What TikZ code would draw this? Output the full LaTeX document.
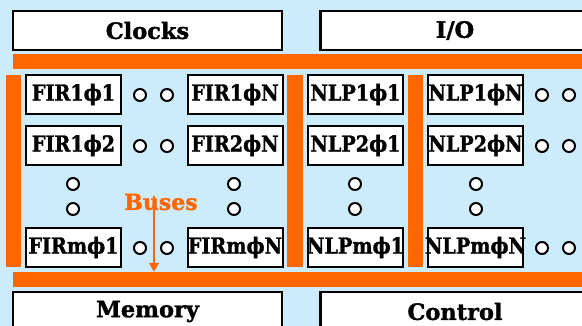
\documentclass[tikz,border=0pt]{standalone}
\usepackage{fontspec}
\setmainfont{DejaVu Serif}[BoldFont={DejaVu Serif Bold}, BoldFeatures={FakeBold=1.5}]
\usetikzlibrary{arrows.meta}
\definecolor{bgblue}{HTML}{CCEBFB}
\definecolor{busorange}{HTML}{FF6600}
\tikzset{
  header/.style={draw=black, line width=2.5pt, fill=white, minimum width=269pt, minimum height=39pt, inner sep=0pt, font=\fontsize{22.5}{24}\selectfont\bfseries},
  pe/.style={draw=black, line width=2pt, fill=white, minimum width=95pt, minimum height=39pt, inner sep=0pt, font=\fontsize{22}{24}\selectfont\bfseries},
  bus/.style={fill=busorange, draw=none, inner sep=0pt},
  dot/.style={circle, draw=black, line width=2pt, fill=white, minimum size=12pt, inner sep=0pt},
  busarrow/.style={draw=busorange, line width=1.6pt, -{Triangle[width=10pt,length=9pt]}},
}
\newcommand{\lbl}[1]{\makebox[0pt]{#1}}
\newcommand{\pelbl}[1]{\makebox[0pt]{\scalebox{0.87}[1]{#1}}}
\begin{document}
\begin{tikzpicture}[x=1pt,y=-1pt]
\useasboundingbox (0,0) rectangle (582,326);
\clip (0,0) rectangle (582,326);
\fill[bgblue] (0,0) rectangle (582,326);
% headers
\node[header] (clocks) at (147.5,30.5) {\lbl{Clocks}};
\node[header] (io) at (455,30.5) {\lbl{I/O}};
\node[header] (memory) at (147.5,311.5) {\lbl{Memory}};
\node[header] (control) at (455,311.5) {\lbl{Control}};
% buses
\node[bus, minimum width=577pt, minimum height=15pt] (topbar) at (301.5,62) {};
\node[bus, minimum width=577pt, minimum height=15pt] (botbar) at (301.5,279.5) {};
\node[bus, minimum width=15pt, minimum height=192pt] (vbar1) at (13.5,171) {};
\node[bus, minimum width=16pt, minimum height=192pt] (vbar2) at (295,171) {};
\node[bus, minimum width=15pt, minimum height=192pt] (vbar3) at (415.5,171) {};
\node[bus, minimum width=15pt, minimum height=192pt] (vbar4) at (589.5,171) {};
% processing elements
\node[pe] (f11) at (73.5,94.5) {\pelbl{FIR1ϕ1}};
\node[pe] (f1n) at (235,94.5) {\pelbl{FIR1ϕN}};
\node[pe] (n11) at (355.5,94.5) {\pelbl{NLP1ϕ1}};
\node[pe] (n1n) at (475.5,94.5) {\pelbl{NLP1ϕN}};
\node[pe] (f12) at (73.5,145.5) {\pelbl{FIR1ϕ2}};
\node[pe] (f2n) at (235,145.5) {\pelbl{FIR2ϕN}};
\node[pe] (n21) at (355.5,145.5) {\pelbl{NLP2ϕ1}};
\node[pe] (n2n) at (475.5,145.5) {\pelbl{NLP2ϕN}};
\node[pe] (fm1) at (73.5,247.5) {\pelbl{FIRmϕ1}};
\node[pe] (fmn) at (235,247.5) {\pelbl{FIRmϕN}};
\node[pe] (nm1) at (355.5,247.5) {\pelbl{NLPmϕ1}};
\node[pe] (nmn) at (475.5,247.5) {\pelbl{NLPmϕN}};
% ellipsis dots horizontal
\foreach \r/\y in {a/95,b/146,c/248}{
  \node[dot] (h1\r) at (140,\y) {};
  \node[dot] (h2\r) at (167,\y) {};
  \node[dot] (h3\r) at (542,\y) {};
  \node[dot] (h4\r) at (569,\y) {};
}
% ellipsis dots vertical
\foreach \c/\x in {a/73,b/234,c/355,d/476}{
  \node[dot] (v1\c) at (\x,184) {};
  \node[dot] (v2\c) at (\x,209) {};
}
% Buses label and arrow
\coordinate (arrtop) at (154,196);
\draw[busarrow] (arrtop) -- (arrtop |- botbar.north);
\node[text=busorange, inner sep=0pt, font=\fontsize{22}{24}\selectfont\bfseries] (buses) at (161,202) {Buses};
\end{tikzpicture}
\end{document}
